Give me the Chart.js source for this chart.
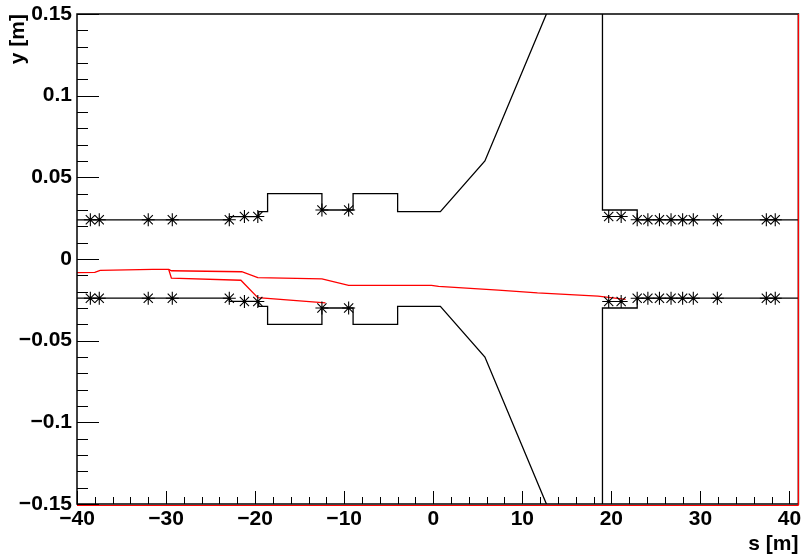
<!DOCTYPE html>
<html>
<head>
<meta charset="utf-8">
<script src="https://cdn.jsdelivr.net/npm/chart.js@4.4.1/dist/chart.umd.min.js"></script>
<style>
  html, body { margin: 0; padding: 0; background: #fff; }
  #wrap { width: 806px; height: 559px; }
</style>
</head>
<body>
<div id="wrap"><canvas id="beamChart"></canvas></div>
<script>
// aperture (upper / lower) along s
const apertureS    = [-40, -22.9, -22.9, -19.6, -19.6, -18.6, -18.6, -12.5, -12.5, -9.0, -9.0, -4.0, -4.0, 0.8, 5.8, 19.0, 19.0, 22.9, 22.9, 41];
const apertureUpY  = [0.024, 0.024, 0.026, 0.026, 0.029, 0.029, 0.040, 0.040, 0.030, 0.030, 0.040, 0.040, 0.029, 0.029, 0.060, 0.232, 0.030, 0.030, 0.024, 0.024];
const apertureLowY = [-0.024, -0.024, -0.026, -0.026, -0.029, -0.029, -0.040, -0.040, -0.030, -0.030, -0.040, -0.040, -0.029, -0.029, -0.060, -0.232, -0.030, -0.030, -0.024, -0.024];

// element markers
const markerS    = [-38.5, -37.5, -32.0, -29.3, -22.9, -21.2, -19.7, -12.5, -9.5, 19.7, 21.1, 22.9, 24.1, 25.4, 26.7, 28.0, 29.2, 31.9, 37.4, 38.4];
const markerUpY  = [0.024, 0.024, 0.024, 0.024, 0.024, 0.026, 0.026, 0.030, 0.030, 0.026, 0.026, 0.024, 0.024, 0.024, 0.024, 0.024, 0.024, 0.024, 0.024, 0.024];
const markerLowY = [-0.024, -0.024, -0.024, -0.024, -0.024, -0.026, -0.026, -0.030, -0.030, -0.026, -0.026, -0.024, -0.024, -0.024, -0.024, -0.024, -0.024, -0.024, -0.024, -0.024];

// trajectories (red)
const trackAS = [-40, -38.0, -37.4, -31.5, -29.7, -29.4, -21.5, -19.7, -12.5, -9.5, -0.2, 0.6, 7.3, 11.7, 18.5, 21.6];
const trackAY = [-0.0084, -0.0082, -0.0070, -0.0064, -0.0064, -0.0072, -0.0078, -0.0114, -0.0122, -0.0161, -0.0161, -0.0168, -0.0190, -0.0208, -0.0227, -0.0247];
const trackBS = [-29.7, -29.4, -21.6, -19.7, -12.1];
const trackBY = [-0.0064, -0.0117, -0.0130, -0.0237, -0.0268];

const xTicks = [-40, -30, -20, -10, 0, 10, 20, 30, 40];
const yTicks = [-0.15, -0.1, -0.05, 0, 0.05, 0.1, 0.15];

const pts = (xs, ys) => xs.map((x, i) => ({ x: x, y: ys[i] }));
const fmt = v => v === 0 ? '0' : String(v).replace('-', '\u2212');

const lineSet = (data, color) => ({
    data: data, showLine: true, borderColor: color, borderWidth: 1.3,
    pointRadius: 0, tension: 0, fill: false
});
const markSet = data => ({
    data: data, showLine: false, pointStyle: 'star', pointRadius: 6.5,
    borderColor: '#000', backgroundColor: '#000', pointBorderWidth: 1.1
});

// ROOT style inward ticks + frame
const frame = {
    id: 'frame',
    afterDraw(chart) {
        const { ctx, chartArea: a, scales: { x, y } } = chart;
        ctx.save();
        ctx.strokeStyle = '#000';
        ctx.lineWidth = 1;
        ctx.beginPath();
        for (let v = -40; v <= 41; v += 2) {
            const px = Math.round(x.getPixelForValue(v)) + 0.5;
            const len = v % 10 === 0 ? 13 : 7;
            ctx.moveTo(px, a.bottom); ctx.lineTo(px, a.bottom - len);
        }
        for (let i = -15; i <= 15; i++) {
            const py = Math.round(y.getPixelForValue(i / 100)) + 0.5;
            const len = i % 5 === 0 ? 22 : 11;
            ctx.moveTo(a.left, py); ctx.lineTo(a.left + len, py);
        }
        ctx.stroke();
        ctx.lineWidth = 1.5;
        ctx.strokeRect(a.left, a.top, a.right - a.left, a.bottom - a.top);
        ctx.strokeStyle = '#ff0000';
        ctx.lineWidth = 1.2;
        ctx.beginPath();
        ctx.moveTo(a.left, a.bottom + 1.5); ctx.lineTo(a.right, a.bottom + 1.5);
        ctx.moveTo(a.right, a.top); ctx.lineTo(a.right, a.bottom + 1.5);
        ctx.stroke();
        ctx.restore();
    }
};

const font = { family: '"Liberation Sans", Arial, sans-serif', size: 21, weight: 'bold', lineHeight: 1.1 };

new Chart(document.getElementById('beamChart'), {
    type: 'scatter',
    data: {
        datasets: [
            lineSet(pts(apertureS, apertureUpY), '#000'),
            lineSet(pts(apertureS, apertureLowY), '#000'),
            markSet(pts(markerS, markerUpY)),
            markSet(pts(markerS, markerLowY)),
            lineSet(pts(trackAS, trackAY), '#ff0000'),
            lineSet(pts(trackBS, trackBY), '#ff0000')
        ]
    },
    options: {
        responsive: true,
        maintainAspectRatio: false,
        animation: false,
        layout: { padding: { top: 14, right: 3, left: 0, bottom: 0 } },
        plugins: { legend: { display: false }, tooltip: { enabled: false } },
        scales: {
            x: {
                type: 'linear', min: -40, max: 41,
                afterBuildTicks: s => { s.ticks = xTicks.map(v => ({ value: v })); },
                afterFit: s => { s.height = 55; s.paddingLeft = 0; s.paddingRight = 0; },
                grid: { display: false, drawTicks: false },
                border: { display: false },
                ticks: { color: '#000', font: font, padding: 4, maxRotation: 0, callback: fmt },
                title: { display: true, text: 's [m]', align: 'end', color: '#000', font: font, padding: { top: 0, bottom: 3 } }
            },
            y: {
                type: 'linear', min: -0.15, max: 0.15,
                afterBuildTicks: s => { s.ticks = yTicks.map(v => ({ value: v })); },
                afterFit: s => { s.width = 77; s.paddingTop = 0; s.paddingBottom = 0; },
                grid: { display: false, drawTicks: false },
                border: { display: false },
                ticks: { color: '#000', font: font, padding: 5, callback: fmt },
                title: { display: true, text: 'y [m]', align: 'end', color: '#000', font: font, padding: { top: 7, bottom: 0 } }
            }
        }
    },
    plugins: [frame]
});
</script>
</body>
</html>
